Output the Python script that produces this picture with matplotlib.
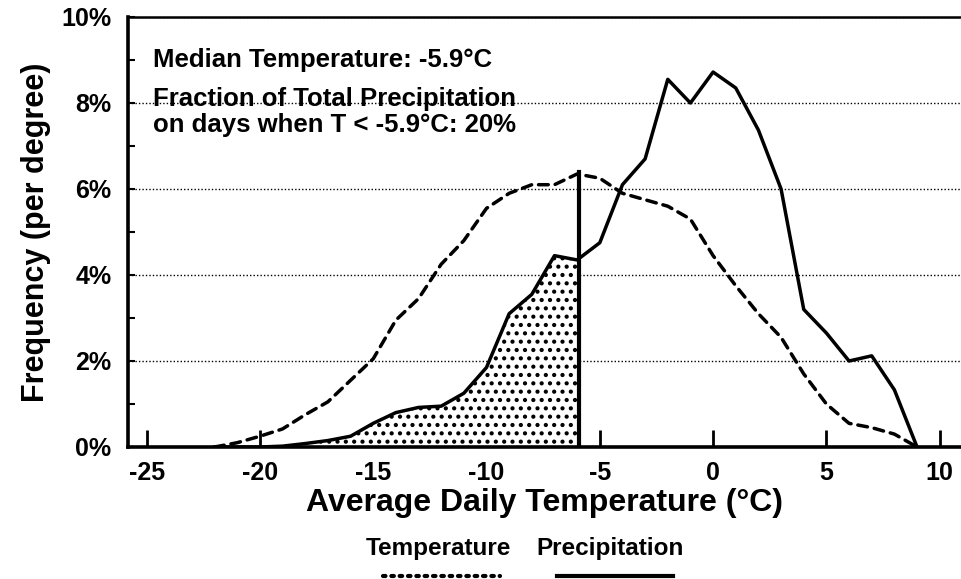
import numpy as np
import matplotlib.pyplot as plt
from matplotlib.lines import Line2D
from matplotlib.patches import Rectangle

plt.rcParams['font.family'] = ['Liberation Sans', 'DejaVu Sans']
plt.rcParams['font.weight'] = 'bold'
plt.rcParams['hatch.linewidth'] = 1.8

# values (percent per degree)
temp_deg = [-22, -21, -20, -19, -18, -17, -16, -15, -14, -13, -12, -11, -10, -9, -8, -7,
            -6, -5, -4, -3, -2, -1, 0, 1, 2, 3, 4, 5, 6, 7, 8, 9]
temperature_freq = [0.0, 0.1, 0.25, 0.42, 0.75, 1.05, 1.55, 2.05, 2.95, 3.45, 4.25, 4.8,
                    5.55, 5.9, 6.1, 6.1, 6.35, 6.25, 5.9, 5.75, 5.6, 5.3, 4.45, 3.75,
                    3.1, 2.55, 1.7, 1.0, 0.55, 0.45, 0.3, 0.0]
precip_freq = [0.0, 0.0, 0.0, 0.02, 0.08, 0.15, 0.25, 0.55, 0.8, 0.92, 0.95, 1.25,
               1.85, 3.1, 3.55, 4.45, 4.35, 4.75, 6.1, 6.7, 8.55, 8.0, 8.72, 8.35,
               7.37, 6.0, 3.2, 2.65, 2.0, 2.12, 1.33, 0.0]
median_temp = -5.9
median_top = 6.4

x_ticks = [-25, -20, -15, -10, -5, 0, 5, 10]
x_tick_labels = ['-25', '-20', '-15', '-10', '-5', '0', '5', '10']
y_ticks = [0, 2, 4, 6, 8, 10]
y_tick_labels = ['0%', '2%', '4%', '6%', '8%', '10%']

fig = plt.figure(figsize=(9.61, 5.79), dpi=100)
ax = fig.add_axes([128 / 961, 1 - 447 / 579, 1 - 128 / 961, (447 - 17) / 579])
ax.set_xlim(-25.82, 10.94)
ax.set_ylim(0, 10)

# shaded precipitation below the median temperature
shade = ax.fill_between(temp_deg, precip_freq, 0, facecolor='white', edgecolor='black',
                        hatch='..', linewidth=0)
clip = Rectangle((-30, 0), median_temp + 30, 12, transform=ax.transData)
shade.set_clip_path(clip)

ax.plot(temp_deg, temperature_freq, color='black', lw=2.5, ls=(0, (2.8, 2.0)),
        dash_capstyle='round')
ax.plot(temp_deg, precip_freq, color='black', lw=2.5)
ax.plot([median_temp, median_temp], [0, median_top], color='black', lw=3)

ax.grid(axis='y', ls=(0, (1, 1.5)), lw=1, color='black')
ax.set_axisbelow(True)

for s in ['left', 'bottom']:
    ax.spines[s].set_linewidth(2.6)
ax.spines['top'].set_linewidth(1.8)
ax.spines['right'].set_visible(False)

ax.set_xticks(x_ticks)
ax.set_xticklabels(x_tick_labels)
ax.set_yticks(y_ticks)
ax.set_yticklabels(y_tick_labels)
ax.set_yticks([1, 3, 5, 7, 9], minor=True)
ax.tick_params(axis='x', direction='in', length=12, width=2, pad=10, labelsize=18)
ax.tick_params(axis='y', which='both', direction='in', length=5, width=1.5, pad=12,
               labelsize=18)

ax.set_xlabel('Average Daily Temperature (°C)', fontsize=23, fontweight='bold', labelpad=2)
ax.set_ylabel('Frequency (per degree)', fontsize=22, fontweight='bold', labelpad=7)

ax.text(-24.7, 8.84, 'Median Temperature: -5.9°C', fontsize=18.5, va='baseline')
ax.text(-24.7, 7.92, 'Fraction of Total Precipitation', fontsize=18.5, va='baseline')
ax.text(-24.7, 7.33, 'on days when T < -5.9°C: 20%', fontsize=18.5, va='baseline')

# legend below the axis label
fig.text(438 / 961, 1 - 548 / 579, 'Temperature', ha='center', va='center', fontsize=17.5)
fig.text(610 / 961, 1 - 548 / 579, 'Precipitation', ha='center', va='center', fontsize=17.5)
fig.add_artist(Line2D([383 / 961, 500 / 961], [1 - 576 / 579] * 2, color='black', lw=3,
                      ls=(0, (0.6, 1.4)), dash_capstyle='round', transform=fig.transFigure))
fig.add_artist(Line2D([557 / 961, 673 / 961], [1 - 576 / 579] * 2, color='black', lw=3,
                      transform=fig.transFigure))

fig.savefig('out.png', dpi=100)
